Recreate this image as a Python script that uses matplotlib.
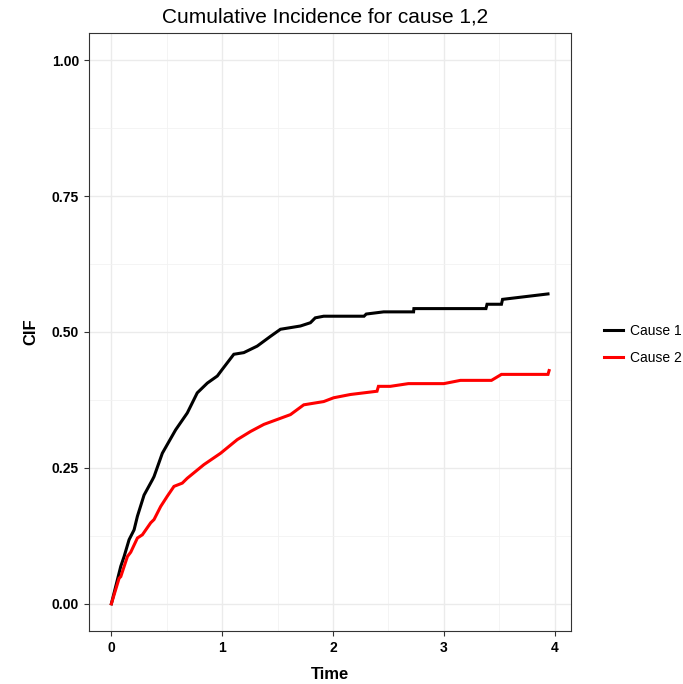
import matplotlib
matplotlib.use("Agg")
import matplotlib.pyplot as plt
from matplotlib.lines import Line2D
from matplotlib.ticker import MultipleLocator

plt.rcParams['font.family'] = ['Liberation Sans', 'DejaVu Sans']

# cumulative incidence, cause 1
t1 = [0.0, 0.085, 0.115, 0.16, 0.205, 0.235, 0.295, 0.37, 0.385, 0.46, 0.58,
      0.685, 0.775, 0.866, 0.956, 1.0, 1.105, 1.195, 1.316, 1.436, 1.526,
      1.706, 1.796, 1.84, 1.916, 2.28, 2.30, 2.457, 2.727, 2.73, 3.38, 3.39,
      3.52, 3.53, 3.94]
cif1 = [0.0, 0.069, 0.087, 0.118, 0.136, 0.161, 0.2, 0.228, 0.234, 0.277, 0.32,
        0.351, 0.388, 0.406, 0.419, 0.431, 0.459, 0.462, 0.474, 0.492, 0.505,
        0.511, 0.517, 0.526, 0.529, 0.529, 0.533, 0.537, 0.537, 0.543, 0.543,
        0.551, 0.551, 0.56, 0.570]

# cumulative incidence, cause 2
t2 = [0.0, 0.07, 0.085, 0.145, 0.175, 0.235, 0.28, 0.355, 0.385, 0.445, 0.505,
      0.565, 0.64, 0.685, 0.835, 0.986, 1.136, 1.256, 1.376, 1.496, 1.616,
      1.736, 1.916, 2.006, 2.157, 2.397, 2.41, 2.517, 2.68, 3.0, 3.15, 3.43,
      3.52, 3.94, 3.95]
cif2 = [0.0, 0.047, 0.05, 0.087, 0.095, 0.121, 0.127, 0.149, 0.155, 0.179, 0.198,
        0.216, 0.222, 0.231, 0.256, 0.277, 0.302, 0.317, 0.33, 0.339, 0.348,
        0.366, 0.372, 0.379, 0.385, 0.391, 0.40, 0.40, 0.405, 0.405, 0.411, 0.411,
        0.422, 0.422, 0.429]

labels = ["Cause 1", "Cause 2"]
colors = ["black", "red"]

fig = plt.figure(figsize=(6.83, 6.84), dpi=100)
ax = fig.add_axes([0.131, 0.0775, 0.705, 0.8743])

ax.plot(t1, cif1, color=colors[0], lw=2.2, solid_joinstyle='miter', zorder=3)
ax.plot(t2, cif2, color=colors[1], lw=2.2, solid_joinstyle='miter', zorder=3)

ax.set_xlim(-0.1975, 4.1475)
ax.set_ylim(-0.05, 1.05)
ax.xaxis.set_major_locator(MultipleLocator(1))
ax.xaxis.set_minor_locator(MultipleLocator(0.5))
ax.yaxis.set_minor_locator(MultipleLocator(0.125))
ax.set_yticks([0, 0.25, 0.5, 0.75, 1.0])
ax.set_yticklabels(["0.00", "0.25", "0.50", "0.75", "1.00"])

ax.grid(which='major', color='#EBEBEB', lw=1.0)
ax.grid(which='minor', color='#F2F2F2', lw=0.6)
ax.set_axisbelow(True)
ax.tick_params(which='minor', length=0)
ax.tick_params(which='major', length=3.5, width=0.8, color='#333333',
               labelsize=10, pad=4)
for lab in ax.get_xticklabels() + ax.get_yticklabels():
    lab.set_fontweight('bold')
for sp in ax.spines.values():
    sp.set_color('#333333')
    sp.set_linewidth(0.8)

ax.set_xlabel("Time", fontsize=12, fontweight='bold', labelpad=8)
ax.set_ylabel("CIF", fontsize=12, fontweight='bold', labelpad=10)
fig.text(0.476, 0.967, "Cumulative Incidence for cause 1,2", fontsize=15,
         ha='center', va='baseline')

handles = [Line2D([], [], color=c, lw=2.2) for c in colors]
fig.legend(handles, labels, loc='center left', bbox_to_anchor=(0.866, 0.496),
           frameon=False, fontsize=10, handlelength=1.35, handletextpad=0.55,
           labelspacing=0.95)

fig.savefig("out.png", dpi=100)
